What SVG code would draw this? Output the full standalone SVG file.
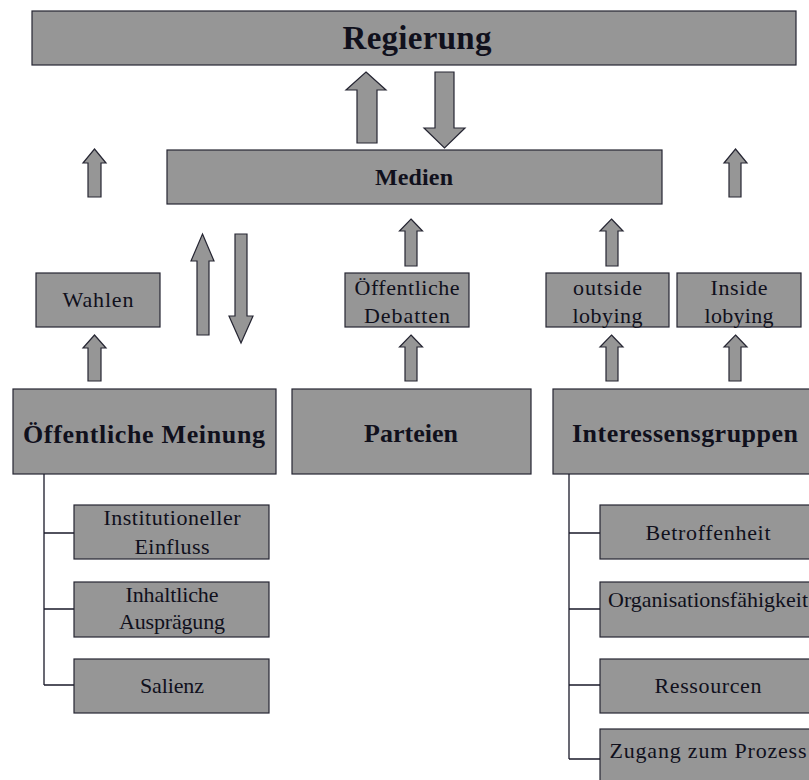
<svg xmlns="http://www.w3.org/2000/svg" width="809" height="780" viewBox="0 0 809 780">
<style>
.box{fill:#969696;stroke:#262633;stroke-width:1.2}
.arr{fill:#969696;stroke:#262633;stroke-width:1.2;stroke-linejoin:miter}
.ln{fill:none;stroke:#1a1a2a;stroke-width:1.3}
text{font-family:"Liberation Serif","DejaVu Serif",serif;fill:#10101c;text-anchor:middle}
.r{font-family:"Liberation Serif","DejaVu Serif",serif;font-size:22px;font-weight:normal}
.b{font-family:"Liberation Serif","DejaVu Serif",serif;font-size:26px;font-weight:bold}
</style>
<rect width="809" height="780" fill="#ffffff"/>
<g id="regierung"><rect class="box" x="32" y="11" width="764" height="54"/><text class="b" x="417" y="49" style="font-size:33px" textLength="149">Regierung</text></g>
<g id="medien"><rect class="box" x="167" y="150" width="495" height="54"/><text class="b" x="414" y="185" style="font-size:24px" textLength="78">Medien</text></g>
<g id="wahlen"><rect class="box" x="36" y="273" width="124" height="54"/><text class="r" x="98" y="307" textLength="71">Wahlen</text></g>
<g id="debatten"><rect class="box" x="345" y="273" width="124" height="54"/><text class="r" x="407" y="295" textLength="105">Öffentliche</text><text class="r" x="407" y="323" textLength="86">Debatten</text></g>
<g id="outside"><rect class="box" x="546" y="273" width="123" height="54"/><text class="r" x="607.5" y="295" textLength="69">outside</text><text class="r" x="607.5" y="323" textLength="70">lobying</text></g>
<g id="inside"><rect class="box" x="677" y="273" width="124" height="54"/><text class="r" x="739" y="295" textLength="57">Inside</text><text class="r" x="739" y="323" textLength="69">lobying</text></g>
<g id="meinung"><rect class="box" x="13" y="389" width="263" height="85"/><text class="b" x="144" y="443" textLength="242">Öffentliche Meinung</text></g>
<g id="parteien"><rect class="box" x="292" y="389" width="239" height="85"/><text class="b" x="411" y="442" textLength="94">Parteien</text></g>
<g id="interessensgruppen"><rect class="box" x="553" y="389" width="264" height="85"/><text class="b" x="685" y="442" textLength="226">Interessensgruppen</text></g>
<g id="institutioneller"><rect class="box" x="74" y="505" width="195" height="54"/><text class="r" x="172" y="525" textLength="137">Institutioneller</text><text class="r" x="172" y="554" textLength="75">Einfluss</text></g>
<g id="inhaltliche"><rect class="box" x="74" y="582" width="195" height="55"/><text class="r" x="172" y="602" textLength="93">Inhaltliche</text><text class="r" x="172" y="629" textLength="106">Ausprägung</text></g>
<g id="salienz"><rect class="box" x="74" y="659" width="195" height="54"/><text class="r" x="172" y="693" textLength="64">Salienz</text></g>
<g id="betroffenheit"><rect class="box" x="600" y="505" width="216" height="54"/><text class="r" x="708" y="540" textLength="125">Betroffenheit</text></g>
<g id="organisation"><rect class="box" x="600" y="582" width="216" height="55"/><text class="r" x="708" y="607" textLength="200">Organisationsfähigkeit</text></g>
<g id="ressourcen"><rect class="box" x="600" y="659" width="216" height="54"/><text class="r" x="708" y="693" textLength="107">Ressourcen</text></g>
<g id="zugang"><rect class="box" x="600" y="729" width="216" height="60"/><text class="r" x="708" y="758" textLength="197">Zugang zum Prozess</text></g>
<g id="connectors">
<polygon class="arr" points="366,72 386,90 377,90 377,143 357,143 357,90 346,90"/>
<polygon class="arr" points="435,72 454,72 454,128 465,128 444.5,148 424,128 435,128"/>
<polygon class="arr" points="94.5,149 106,163 101,163 101,197 88,197 88,163 83,163"/>
<polygon class="arr" points="735.5,149 747,163 741,163 741,197 729,197 729,163 724,163"/>
<polygon class="arr" points="411,219 422.5,231 417,231 417,266 405,266 405,231 399.5,231"/>
<polygon class="arr" points="611.5,219 623,231 618,231 618,266 606,266 606,231 600,231"/>
<polygon class="arr" points="94.5,335 106,348 101,348 101,381 88,381 88,348 83,348"/>
<polygon class="arr" points="411,335 422.5,347 417,347 417,381 405,381 405,347 399.5,347"/>
<polygon class="arr" points="611.5,335 623,347 618,347 618,381 606,381 606,347 600,347"/>
<polygon class="arr" points="735.5,335 747,347 741,347 741,381 729,381 729,347 724,347"/>
<polygon class="arr" points="202.5,234 214,261 209,261 209,335 197,335 197,261 191,261"/>
<polygon class="arr" points="235,234 247,234 247,316 253,316 241,343 229,316 235,316"/>
<path class="ln" d="M44,474 V685 M44,533 H74 M44,609 H74 M44,685 H74"/>
<path class="ln" d="M569,474 V759 M569,533 H600 M569,609 H600 M569,685 H600 M569,759 H600"/>
</g>
</svg>
